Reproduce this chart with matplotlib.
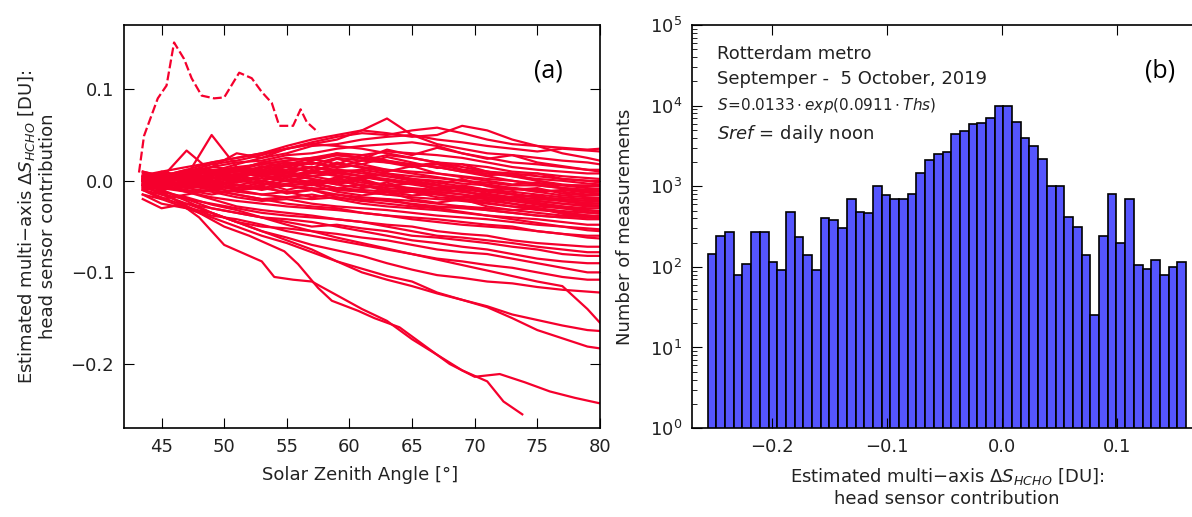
import numpy as np
import matplotlib.pyplot as plt

# ---- panel (a): head sensor contribution vs SZA (values in mDU)
sza_grid = [43.5, 45, 47, 49, 51, 53, 55, 57, 59, 61, 63, 65, 67, 69, 71, 73, 75, 77, 79, 80]

upper_curves = [
    [0, 5, 12, 20, 25, 30, 38, 45, 50, 55, 68, 50, 45, 42, 38, 35, 32, 35, 33, 32],
    [3, 0, 10, 18, 22, 28, 35, 42, 48, 52, 50, 55, 58, 52, 45, 40, 38, 36, 34, 35],
    [-5, 2, 8, 15, 30, 25, 35, 40, 45, 55, 52, 48, 50, 60, 55, 45, 38, 30, 25, 22],
    [8, 5, 12, 10, 18, 25, 30, 38, 40, 45, 48, 50, 40, 35, 30, 28, 25, 22, 20, 18],
    [0, 10, 5, 15, 20, 22, 28, 30, 35, 38, 40, 42, 38, 30, 25, 20, 18, 15, 12, 10],
    [-3, 5, 10, 8, 15, 18, 22, 25, 30, 28, 32, 30, 28, 25, 20, 15, 12, 10, 8, 8],
    [5, 0, 8, 12, 10, 15, 20, 18, 25, 22, 28, 25, 20, 18, 15, 10, 8, 5, 3, 2],
    [0, -5, 5, 10, 15, 12, 18, 20, 15, 22, 20, 15, 18, 12, 10, 8, 5, 2, 0, -2],
    [10, 5, 0, 8, 12, 20, 15, 10, 18, 15, 12, 10, 8, 5, 2, 0, -3, -5, -5, -6],
    [-8, 0, 5, -2, 8, 10, 12, 15, 10, 12, 8, 5, 3, 0, -2, -5, -5, -8, -10, -10],
    [2, 8, 5, 50, 15, 10, 5, 8, 12, 10, 5, 2, 0, -3, -5, -8, -10, -12, -15, -15],
    [0, 3, 33, 10, 5, 8, 10, 5, 8, 5, 2, -2, -5, -8, -10, -12, -15, -18, -20, -20],
    [6, 10, 15, 20, 25, 30, 35, 40, 38, 35, 30, 25, 20, 15, 10, 5, 0, -5, -8, -9],
    [0, 2, 0, 6, 12, 18, 22, 25, 28, 25, 22, 18, 15, 10, 8, 5, 2, 0, -3, -4],
    [3, 5, 10, 15, 12, 20, 25, 22, 28, 25, 20, 18, 15, 10, 5, 0, -5, -8, -12, -12],
    [0, -2, 4, 10, 6, 16, 12, 22, 30, 24, 34, 28, 36, 30, 24, 28, 20, 16, 12, 12],
    [-2, 4, 0, 8, 14, 8, 18, 24, 18, 28, 22, 16, 20, 12, 6, 8, 0, -4, -6, -6],
    [0, 6, 0, 8, 4, 14, 20, 14, 24, 18, 26, 20, 14, 18, 10, 6, 8, 2, 0, 0],
]

middle_curves = [
    [0, -5, 0, 5, 10, 12, 8, 5, 10, 5, 0, -2, -5, -8, -10, -15, -18, -20, -22, -22],
    [5, 0, -5, 0, 5, 8, 5, 10, 5, 0, -5, -8, -10, -12, -15, -18, -20, -22, -25, -25],
    [-10, -5, 0, -5, 0, 5, 0, -5, 0, -5, -8, -10, -12, -15, -18, -20, -22, -25, -28, -28],
    [0, 5, 0, -5, -8, -5, 0, 5, 0, -5, -10, -12, -15, -18, -20, -22, -25, -28, -30, -30],
    [5, 8, 5, 0, -5, -10, -5, -8, -10, -12, -15, -12, -18, -20, -22, -25, -28, -30, -32, -33],
    [-5, -10, -5, -8, -5, 0, -5, -10, -8, -12, -15, -18, -20, -22, -25, -28, -30, -33, -35, -35],
    [0, -5, -10, -15, -10, -8, -12, -10, -15, -18, -20, -22, -25, -28, -30, -32, -35, -38, -40, -40],
    [10, 5, 0, -5, -10, -15, -12, -18, -15, -20, -22, -25, -28, -30, -32, -35, -38, -40, -42, -42],
    [-15, -20, -15, -10, -15, -20, -18, -15, -20, -25, -28, -30, -32, -35, -38, -40, -42, -45, -48, -48],
    [0, -3, -8, -12, -18, -22, -20, -25, -28, -30, -32, -35, -38, -40, -42, -45, -48, -50, -52, -53],
    [-5, -8, -12, -18, -22, -25, -28, -30, -32, -35, -38, -40, -42, -45, -48, -50, -55, -58, -60, -60],
    [5, 0, -5, -10, -15, -20, -25, -28, -30, -35, -38, -42, -45, -48, -50, -52, -55, -58, -62, -63],
    [0, -5, -3, -8, -12, -15, -18, -20, -18, -22, -25, -28, -30, -28, -32, -35, -38, -40, -38, -38],
    [-3, 0, 5, 3, 0, -3, -5, -3, -8, -10, -12, -10, -15, -18, -15, -20, -22, -25, -27, -27],
    [-8, -3, -5, 2, 8, 5, 10, 15, 12, 8, 5, 0, -5, -10, -12, -15, -18, -20, -22, -23],
    [2, -2, -8, -5, -2, 3, 0, -3, 2, -2, -5, -3, -8, -5, -10, -8, -12, -10, -13, -14],
    [-2, -6, -12, -10, -5, -8, -3, 0, -4, -8, -5, -10, -12, -15, -20, -25, -30, -35, -38, -40],
    [4, 0, 6, 10, 5, 12, 8, 15, 10, 5, 8, 2, -2, -6, -10, -14, -18, -22, -26, -28],
    [-6, -2, 2, -4, 4, 0, 6, 2, -2, 4, 0, -4, -8, -12, -16, -20, -24, -28, -32, -34],
    [2, 6, 2, 8, 14, 10, 16, 20, 14, 18, 12, 8, 4, 0, -4, -8, -12, -16, -18, -19],
    [0, 4, -2, 6, 2, 10, 4, 12, 6, 2, 8, 0, -4, 2, -6, -10, -8, -14, -16, -16],
    [-4, 2, 8, 2, 12, 6, 16, 10, 20, 14, 10, 16, 8, 4, 0, -4, -2, -8, -10, -11],
    [2, -4, 4, -2, 6, 0, 8, 2, -4, 2, -6, -2, -10, -6, -14, -18, -16, -22, -24, -25],
    [-6, 0, -4, 4, -2, 6, 2, -4, 4, -6, -2, -10, -14, -10, -18, -22, -26, -30, -34, -36],
    [4, 0, -6, 0, -8, -2, -10, -4, -12, -16, -12, -20, -24, -20, -28, -32, -30, -36, -40, -41],
    [2, 0, -6, -2, -10, -6, -14, -10, -18, -22, -20, -26, -30, -34, -38, -42, -46, -50, -54, -55],
    [-4, -8, -2, -6, 2, -4, 4, -2, -8, -4, -12, -16, -14, -20, -24, -28, -32, -34, -38, -39],
]

lower_curves = [
    [-10, -15, -20, -25, -30, -35, -38, -40, -42, -45, -48, -50, -55, -58, -60, -65, -68, -70, -72, -72],
    [0, -5, -12, -20, -28, -32, -35, -38, -42, -45, -50, -55, -60, -62, -65, -68, -72, -75, -78, -78],
    [-20, -30, -25, -30, -35, -40, -45, -50, -48, -52, -55, -60, -62, -65, -68, -72, -75, -80, -82, -82],
    [-5, -10, -20, -30, -35, -40, -42, -45, -50, -55, -60, -65, -68, -72, -75, -80, -85, -88, -90, -90],
    [-15, -25, -30, -35, -45, -50, -52, -55, -58, -62, -65, -70, -75, -78, -80, -85, -90, -95, -100, -100],
    [-10, -18, -28, -38, -42, -48, -55, -60, -65, -70, -75, -80, -85, -88, -92, -95, -100, -105, -108, -108],
    [-5, -15, -25, -35, -45, -55, -62, -70, -76, -82, -90, -97, -103, -106, -110, -112, -116, -119, -121, -122],
    [-10, -20, -30, -40, -50, -60, -68, -78, -88, -96, -104, -110, -122, -130, -137, -146, -152, -158, -163, -164],
    [0, -10, -22, -35, -45, -55, -65, -75, -88, -100, -108, -115, -123, -130, -138, -150, -163, -172, -181, -183],
    [-8, -12, -18, -26, -32, -40, -48, -55, -62, -68, -74, -80, -86, -92, -98, -104, -110, -115, -140, -155],
]

outlier_sza = [43.2, 43.6, 44.7, 45.4, 46.0, 46.8, 47.4, 48.2, 49.2, 50.0, 51.2, 52.2,
               53.0, 53.8, 54.4, 55.5, 56.1, 56.6, 57.5]
outlier_val = [9, 49, 90, 104, 151, 133, 112, 93, 90, 91, 118, 112,
               97, 85, 60, 60, 78, 64, 53]

steep_a_sza = [43.5, 46, 48, 50, 53, 54, 55.5, 57, 59, 61, 63, 65, 67, 69, 71, 72.3, 73.8]
steep_a_val = [0, -20, -40, -70, -88, -105, -108, -110, -125, -140, -153, -173, -190, -207, -219, -241, -255]

steep_b_sza = [43.5, 46, 48, 50, 52, 54.8, 55.9, 57.5, 58.6, 60.7, 62, 64, 66, 68, 70, 72, 74, 76, 78, 80]
steep_b_val = [-5, -20, -35, -50, -60, -77, -91, -117, -131, -142, -150, -160, -180, -200, -214, -211, -220, -230, -237, -243]

# ---- panel (b): histogram of the head sensor contribution
bin_start = -0.2563
bin_width = 0.00757
counts = [145, 245, 270, 80, 110, 270, 270, 115, 92, 480, 235, 140, 92, 400, 385, 300,
          700, 480, 460, 1000, 780, 700, 700, 800, 1450, 2100, 2550, 2650, 4400, 4900,
          6000, 6100, 7000, 10000, 10000, 6300, 4000, 3200, 2200, 1000, 1000, 410, 310,
          140, 25, 240, 800, 200, 700, 105, 95, 120, 80, 100, 115]

red = '#f5002d'
txt = '#222222'

fig = plt.figure(figsize=(11.92, 5.17), dpi=100)
ax1 = fig.add_axes([0.104, 0.172, 0.3993, 0.7795])
ax2 = fig.add_axes([0.5805, 0.172, 0.453, 0.7795])

for group in (upper_curves, middle_curves, lower_curves):
    for c in group:
        ax1.plot(sza_grid, np.array(c, dtype=float) / 1000, color=red, lw=1.6)
ax1.plot(outlier_sza, np.array(outlier_val) / 1000, color=red, lw=1.6, ls=(0, (4, 1.5)))
ax1.plot(steep_a_sza, np.array(steep_a_val) / 1000, color=red, lw=1.6)
ax1.plot(steep_b_sza, np.array(steep_b_val) / 1000, color=red, lw=1.6)

ax1.set_xlim(42, 80)
ax1.set_ylim(-0.27, 0.17)
ax1.set_xticks([45, 50, 55, 60, 65, 70, 75, 80])
ax1.set_yticks([-0.2, -0.1, 0.0, 0.1])
ax1.set_xlabel('Solar Zenith Angle [°]', fontsize=13, color=txt)
ax1.xaxis.set_label_coords(0.496, -0.095)
ax1.set_ylabel('Estimated multi\u2212axis $\\Delta S_{HCHO}$ [DU]:\nhead sensor contribution',
               fontsize=13, color=txt)
ax1.yaxis.set_label_coords(-0.14, 0.5)

edges = bin_start + bin_width * np.arange(len(counts) + 1)
ax2.hist(edges[:-1], bins=edges, weights=counts, color='#5555ff', edgecolor='black', lw=1.2)
ax2.set_yscale('log')
ax2.set_ylim(1, 1e5)
ax2.set_xlim(-0.27, 0.2)
ax2.set_xticks([-0.2, -0.1, 0.0, 0.1])
ax2.set_xlabel('Estimated multi\u2212axis $\\Delta S_{HCHO}$ [DU]:\nhead sensor contribution',
               fontsize=13, color=txt)
ax2.xaxis.set_label_coords(0.472, -0.095)
ax2.set_ylabel('Number of measurements', fontsize=13, color=txt)
ax2.yaxis.set_label_coords(-0.107, 0.5)

for ax in (ax1, ax2):
    ax.tick_params(which='both', direction='in', top=True, right=True,
                   labelsize=13, labelcolor=txt, pad=7)
    ax.tick_params(which='major', length=7)
    ax.tick_params(which='minor', length=3.5)
    for s in ax.spines.values():
        s.set_linewidth(1.2)

fig.text(0.6015, 0.8956, 'Rotterdam metro', fontsize=13, color=txt, va='center')
fig.text(0.6015, 0.847, 'Septemper -  5 October, 2019', fontsize=13, color=txt, va='center')
fig.text(0.6015, 0.795, r'$S\!=\!0.0133\cdot exp(0.0911\cdot Ths)$', fontsize=11, color=txt, va='center')
fig.text(0.6015, 0.741, r'$Sref$ = daily noon', fontsize=13, color=txt, va='center')
fig.text(0.4597, 0.8627, '(a)', fontsize=18, color='black', ha='center', va='center', family='Open Sans')
fig.text(0.973, 0.8627, '(b)', fontsize=18, color='black', ha='center', va='center', family='Open Sans')

fig.savefig('out.png', dpi=100)
